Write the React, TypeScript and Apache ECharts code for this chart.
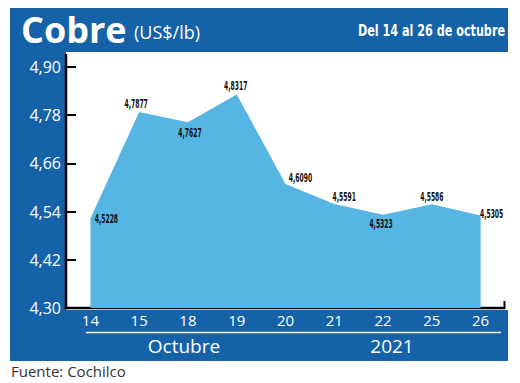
import React, { useEffect, useRef } from "react";
import * as echarts from "echarts";

const categories = ["14", "15", "18", "19", "20", "21", "22", "25", "26"];
const prices = [4.5228, 4.7877, 4.7627, 4.8317, 4.609, 4.5591, 4.5323, 4.5586, 4.5305];
const yTicks = [4.3, 4.42, 4.54, 4.66, 4.78, 4.9];
// label offsets (px) from each data point
const labelDx = [16, -3, 2, -1, 15, 10, -2, 0, 11];
const labelDy = [0, -8, 11, -9, -6, -7, 9, -7, -2];

const BLUE = "#1562a8";
const AREA = "#57b5e3";
const COND = "'DejaVu Sans Condensed', 'Liberation Sans Narrow', 'Noto Sans', sans-serif";
const fmt = (v: number, d: number) => v.toFixed(d).replace(".", ",");

export default function App() {
  const ref = useRef<HTMLDivElement>(null);
  useEffect(() => {
    document.body.style.margin = "0";
    const chart = echarts.init(ref.current!, undefined, { renderer: "svg" });
    chart.setOption({
      animation: false,
      backgroundColor: "#ffffff",
      grid: { left: 66, right: 15, top: 67, bottom: 75 },
      xAxis: {
        type: "category",
        data: categories,
        boundaryGap: true,
        axisLine: { show: false },
        axisTick: { show: false },
        axisLabel: { color: "#fff", fontFamily: "Open Sans", fontSize: 15, margin: 4 },
      },
      yAxis: {
        type: "value",
        min: 4.3,
        max: 4.9,
        splitLine: { show: false },
        axisLine: { show: false },
        axisTick: {
          show: true,
          inside: true,
          length: 10,
          lineStyle: { color: "#000", width: 2 },
          customValues: yTicks,
        },
        axisLabel: {
          color: "#fff",
          fontFamily: "Open Sans",
          fontSize: 16,
          margin: 5,
          customValues: yTicks,
          formatter: (v: number) => fmt(v, 2),
        },
      },
      series: [
        {
          type: "line",
          z: 3,
          symbol: "none",
          lineStyle: { width: 0, color: AREA },
          areaStyle: { color: AREA, opacity: 1, origin: "start" },
          data: prices,
        },
      ],
    });

    const labels = prices.map((v, i) => {
      const p = chart.convertToPixel({ gridIndex: 0 }, [i, v]) as number[];
      return {
        type: "text",
        z: 10,
        x: p[0] + labelDx[i],
        y: p[1] + labelDy[i],
        scaleX: 0.56,
        style: {
          text: fmt(v, 4),
          fill: "#111",
          fontFamily: COND,
          fontWeight: "bold",
          fontSize: 12,
          align: "center",
          verticalAlign: "middle",
        },
      };
    });

    chart.setOption({
      graphic: [
        { type: "rect", z: -20, shape: { x: 10, y: 8, width: 498, height: 353 }, style: { fill: BLUE } },
        { type: "rect", z: -19, shape: { x: 66, y: 52, width: 442, height: 258 }, style: { fill: "#fff" } },
        { type: "line", z: -18, shape: { x1: 66, y1: 308, x2: 505, y2: 308 }, style: { stroke: "#000", lineWidth: 2.5 } },
        { type: "line", z: 5, shape: { x1: 66, y1: 54, x2: 66, y2: 309.2 }, style: { stroke: "#000", lineWidth: 2.5 } },
        { type: "line", z: 5, shape: { x1: 504.5, y1: 301, x2: 504.5, y2: 309 }, style: { stroke: "#000", lineWidth: 2 } },
        { type: "line", z: 5, shape: { x1: 86, y1: 332.5, x2: 501, y2: 332.5 }, style: { stroke: "#fff", lineWidth: 1.5 } },
        {
          type: "text", z: 5, x: 184, y: 346,
          style: { text: "Octubre", fill: "#fff", fontFamily: "Open Sans", fontSize: 19, align: "center", verticalAlign: "middle" },
        },
        {
          type: "text", z: 5, x: 392, y: 346,
          style: { text: "2021", fill: "#fff", fontFamily: "Open Sans", fontSize: 19, align: "center", verticalAlign: "middle" },
        },
        {
          type: "text", z: 5, x: 21, y: 29,
          style: { text: "Cobre", fill: "#fff", fontFamily: "Open Sans", fontWeight: "bold", fontSize: 36, align: "left", verticalAlign: "middle" },
        },
        {
          type: "text", z: 5, x: 134, y: 32,
          style: { text: "(US$/lb)", fill: "#fff", fontFamily: "Open Sans", fontSize: 18, align: "left", verticalAlign: "middle" },
        },
        {
          type: "text", z: 5, x: 505, y: 31, scaleX: 0.83,
          style: { text: "Del 14 al 26 de octubre", fill: "#fff", fontFamily: COND, fontWeight: "bold", fontSize: 15, align: "right", verticalAlign: "middle" },
        },
        {
          type: "text", z: 5, x: 11, y: 371,
          style: { text: "Fuente: Cochilco", fill: "#333", fontFamily: "Open Sans", fontSize: 15, align: "left", verticalAlign: "middle" },
        },
        ...labels,
      ],
    });
    return () => chart.dispose();
  }, []);
  return <div ref={ref} style={{ width: 520, height: 383 }} />;
}
